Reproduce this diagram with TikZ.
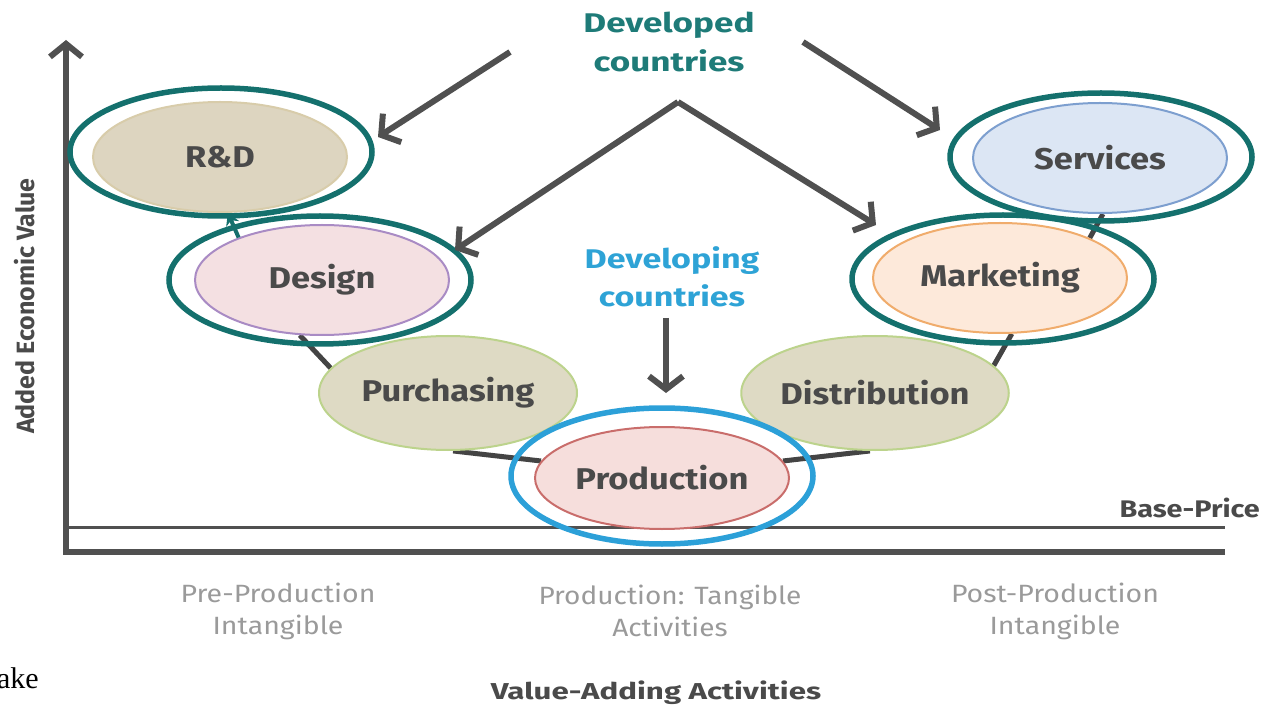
\documentclass[tikz,border=0pt]{standalone}
\usepackage{fontspec}
\setmainfont{Fira Sans}
\newfontfamily\serifface{Liberation Serif}
\usetikzlibrary{arrows.meta,shapes.geometric,backgrounds}
\newcommand\widetext[2]{\scalebox{#1}[1]{#2}}
\definecolor{axisgray}{HTML}{505050}
\definecolor{labgray}{HTML}{4A4A4A}
\definecolor{lightgray}{HTML}{9A9A9A}
\definecolor{tealring}{HTML}{14706D}
\definecolor{tealtext}{HTML}{1E7B78}
\definecolor{bluering}{HTML}{2CA0D8}
\definecolor{bluetext}{HTML}{2EA3D6}
\definecolor{rdfill}{HTML}{DDD5C0}\definecolor{rdline}{HTML}{D8CCAA}
\definecolor{desfill}{HTML}{F4E0E2}\definecolor{desline}{HTML}{A98BC4}
\definecolor{purfill}{HTML}{DEDAC4}\definecolor{purline}{HTML}{BCD38C}
\definecolor{profill}{HTML}{F6DEDC}\definecolor{proline}{HTML}{C96D6B}
\definecolor{mktfill}{HTML}{FDE9DA}\definecolor{mktline}{HTML}{F0AC6C}
\definecolor{srvfill}{HTML}{DCE6F4}\definecolor{srvline}{HTML}{7D9FCF}
\tikzset{
  stage/.style={ellipse, line width=2pt, minimum width=254pt, minimum height=110pt, inner sep=0pt,
    text=labgray, font=\fontsize{30}{34}\selectfont\bfseries},
  ring/.style={ellipse, draw=tealring, line width=5.5pt, minimum width=302pt, minimum height=128pt, inner sep=0pt},
  link/.style={draw=axisgray!85!black, line width=5pt},
  bigarrow/.style={draw=axisgray, line width=6pt, -{Straight Barb[length=13pt,width=34pt,line width=6pt]}},
  axisline/.style={draw=axisgray, line width=6pt},
  botlab/.style={align=center, text=lightgray, font=\fontsize{25}{32}\selectfont},
}
\begin{document}
\begin{tikzpicture}[x=1pt,y=-1pt]
\useasboundingbox (0,0) rectangle (1263,708);
% axes
\coordinate (origin) at (66,552);
\coordinate (ytop) at (66,40);
\coordinate (xend) at (1225,552);
\coordinate (bpl) at (66,527);
\coordinate (bpr) at (1225,527);
\draw[axisgray, line width=3pt] (bpl) -- (bpr);
\draw[axisline, line join=miter, -{Straight Barb[length=13pt,width=32pt,line width=6pt]}] (xend) -- (origin) -- (ytop);
\node[anchor=base east, inner sep=0pt, text=labgray, font=\fontsize{24}{28}\selectfont\bfseries] (bp) at (1260,517) {\widetext{1.2}{Base-Price}};
\node[rotate=90, text=labgray, font=\fontsize{25}{28}\selectfont\bfseries] (yl) at (25,306) {Added Economic Value};
% stages
\node[stage, fill=rdfill, draw=rdline] (rd) at (220,157) {\widetext{1.15}{R\&D}};
\node[stage, fill=desfill, draw=desline] (des) at (322,280) {\widetext{1.15}{Design}};
\node[stage, fill=purfill, draw=purline, minimum width=258pt, minimum height=114pt] (pur) at (448,393) {\widetext{1.15}{Purchasing}};
\node[stage, fill=profill, draw=proline, minimum height=102pt] (pro) at (662,478) {\widetext{1.15}{Production}};
\node[stage, fill=purfill, draw=purline, minimum width=256pt, minimum height=114pt] (dis) at (875,393) {\widetext{1.15}{Distribution}};
\node[stage, fill=mktfill, draw=mktline] (mkt) at (1000,278) {\widetext{1.15}{Marketing}};
\node[stage, fill=srvfill, draw=srvline] (srv) at (1100,158) {\widetext{1.15}{Services}};
% rings
\node[ring] (rdring) at (221,152) {};
\node[ring] (desring) at (320,280) {};
\node[ring, draw=bluering, minimum height=136pt] (proring) at (662,476) {};
\node[ring] (mktring) at (1003,279) {};
\node[ring] (srvring) at (1101,157) {};
% links on background
\begin{pgfonlayer}{background}
\draw[link] (des.-112) -- (pur.168);
\draw[link] (pur.-85) -- (pro.172);
\draw[link] (pro.8) -- (dis.-95);
\draw[link] (dis.13) -- (mkt.-78);
\draw[link] (mkt.24) -- (srv.-87);
\end{pgfonlayer}
\draw[draw=tealring, line width=4pt, -{Stealth[length=12pt,width=14pt]}] (des.153) -- (rd.-82);
% developed countries
\node[align=center, text=tealtext, font=\fontsize{27}{39}\selectfont\bfseries] (dev) at (669,42) {\widetext{1.3}{Developed}\\\widetext{1.3}{countries}};
\coordinate (apex) at (678,102);
\coordinate (dl) at (510,52);
\coordinate (dr) at (803,42);
\coordinate (toRD) at (378,137);
\coordinate (toDes) at (455,250);
\coordinate (toMkt) at (876,225);
\coordinate (toSrv) at (940,130);
\draw[bigarrow] (dl) -- (toRD);
\draw[bigarrow] (dr) -- (toSrv);
\draw[bigarrow] (apex) -- (toDes);
\draw[bigarrow] (apex) -- (toMkt);
% developing countries
\node[align=center, text=bluetext, font=\fontsize{27}{38}\selectfont\bfseries] (dvg) at (672,277) {\widetext{1.26}{Developing}\\\widetext{1.26}{countries}};
\coordinate (dvgs) at (666,318);
\coordinate (dvge) at (666,393);
\draw[bigarrow] (dvgs) -- (dvge);
% bottom labels
\node[botlab] (pre) at (278,611) {\widetext{1.14}{Pre-Production}\\\widetext{1.14}{Intangible}};
\node[botlab] (mid) at (670,611) {\widetext{1.12}{Production: Tangible}\\\widetext{1.12}{Activities}};
\node[botlab] (post) at (1055,611) {\widetext{1.14}{Post-Production}\\\widetext{1.14}{Intangible}};
\node[anchor=base, inner sep=0pt, text=labgray, font=\fontsize{23}{28}\selectfont\bfseries] (val) at (656,699) {\widetext{1.36}{Value-Adding Activities}};
\node[anchor=base east, inner sep=0pt, font=\serifface\fontsize{30}{34}\selectfont] (ake) at (39,688) {ake};
\end{tikzpicture}
\end{document}
